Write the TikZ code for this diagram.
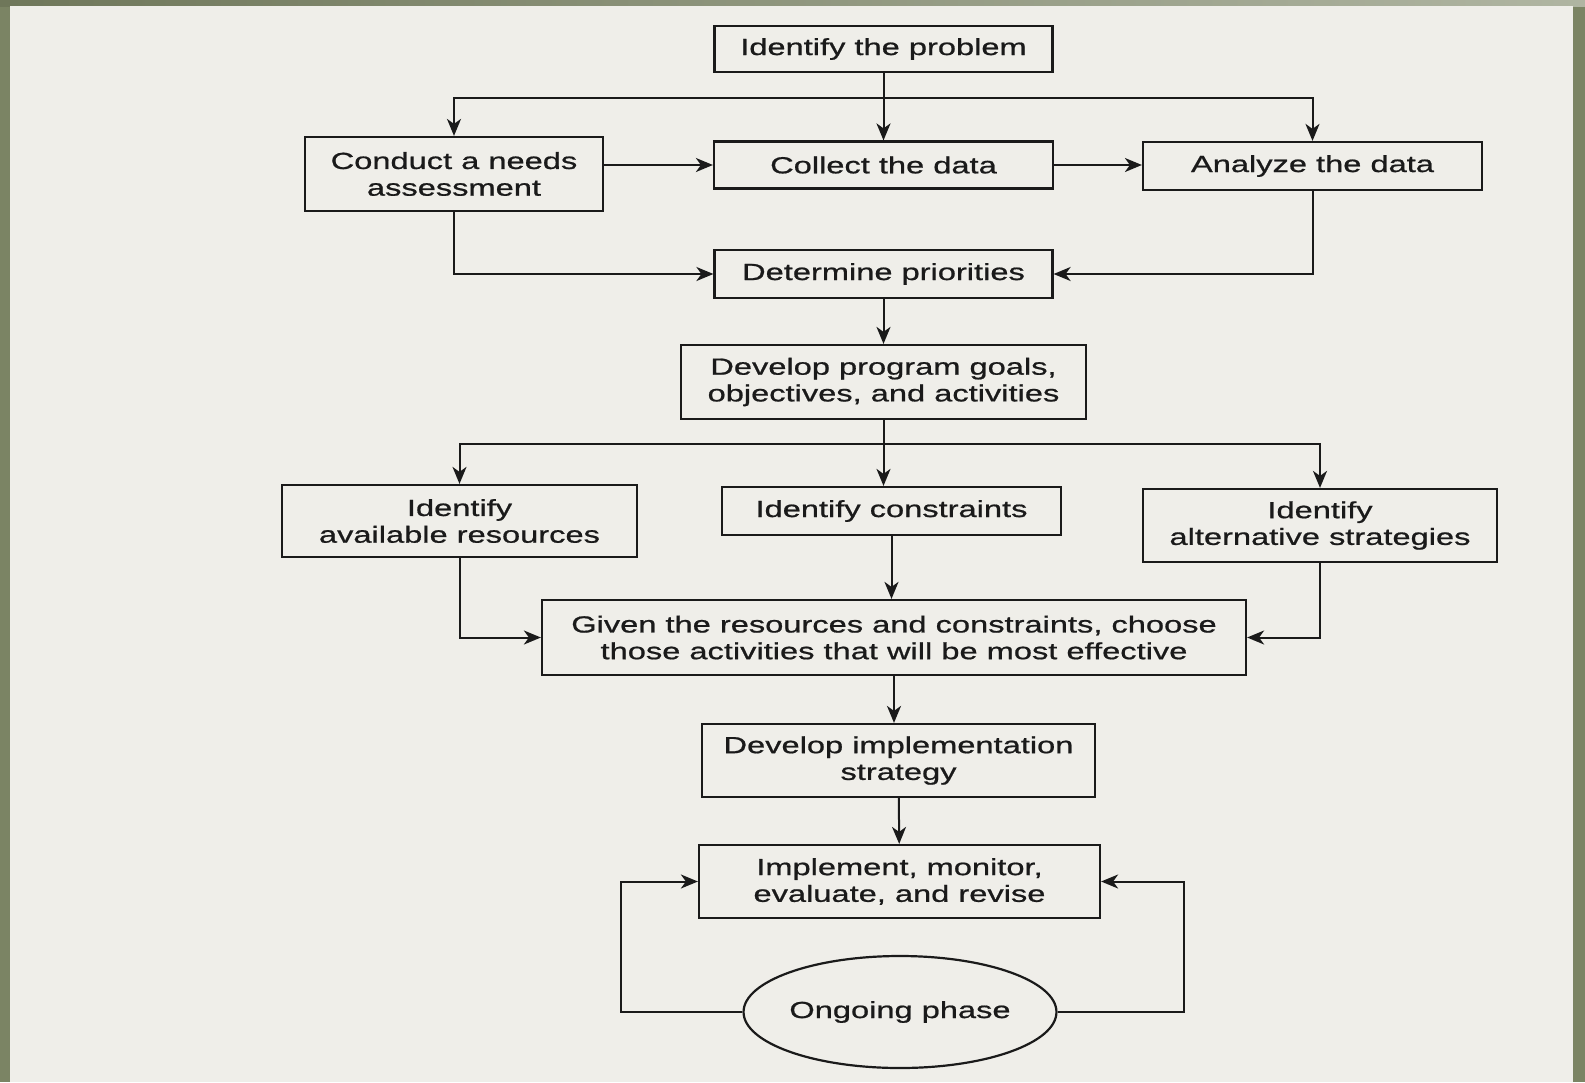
\documentclass[tikz,border=0pt]{standalone}
\usepackage{fontspec}
\newfontfamily\flowfont[FakeStretch=1.40,FakeBold=0.8]{Liberation Sans}
\usetikzlibrary{arrows.meta,shapes.geometric,calc}
\definecolor{bordergreen}{HTML}{7B8464}
\definecolor{paper}{HTML}{EFEEE9}
\definecolor{ink}{HTML}{1A1A1A}

\begin{document}
\begin{tikzpicture}[x=1pt,y=-1pt]

	\tikzstyle{activity}=[rectangle,draw=ink,line width=2.2pt,text=ink,
		font=\flowfont\fontsize{23.3pt}{26.7pt}\selectfont,
		align=center,inner sep=0pt]
	\tikzstyle{arrow}=[-{Stealth[length=17pt,width=14pt,inset=5pt]},line width=2pt,draw=ink]

	% page and frame
	\fill[bordergreen] (0,0) rectangle (1585,1082);
	\shade[left color=bordergreen!90!black,right color=bordergreen!60!white] (0,0) rectangle (1585,6);
	\fill[paper] (10,6) rectangle (1573,1082);
	\useasboundingbox (0,0) rectangle (1585,1082);

	\node[activity,minimum width=338pt,minimum height=46pt](problem) at (883.5,49){Identify the problem};
	\node[activity,minimum width=298pt,minimum height=74pt](needs) at (454,174){Conduct a needs\\ assessment};
	\node[activity,minimum width=339pt,minimum height=47pt](collect) at (883.5,165){Collect the data};
	\node[activity,minimum width=339pt,minimum height=48pt](analyze) at (1312.5,166){Analyze the data};
	\node[activity,minimum width=338pt,minimum height=48pt](priorities) at (883.5,274){Determine priorities};
	\node[activity,minimum width=405pt,minimum height=74pt](goals) at (883.5,382){Develop program goals,\\ objectives, and activities};
	\node[activity,minimum width=355pt,minimum height=72pt](resources) at (459.5,521){Identify\\ available resources};
	\node[activity,minimum width=339pt,minimum height=48pt](constraints) at (891.5,511){Identify constraints};
	\node[activity,minimum width=354pt,minimum height=73pt](strategies) at (1320,525.5){Identify\\ alternative strategies};
	\node[activity,minimum width=704pt,minimum height=75pt](choose) at (894,637.5){Given the resources and constraints, choose\\ those activities that will be most effective};
	\node[activity,minimum width=393pt,minimum height=73pt](implstrat) at (898.5,760.5){Develop implementation\\ strategy};
	\node[activity,minimum width=401pt,minimum height=73pt](implement) at (899.5,881.5){Implement, monitor,\\ evaluate, and revise};
	\node[activity,ellipse,minimum width=306pt,minimum height=112pt](ongoing) at (900,1012){Ongoing phase};

	\coordinate (splittop) at ($(problem.south)+(0,25)$);
	\coordinate (splitmid) at ($(goals.south)+(0,24)$);

	\draw[arrow] (problem) -- (collect);
	\draw[arrow] (splittop) -| (needs);
	\draw[arrow] (splittop) -| (analyze);
	\draw[arrow] (needs.east|-collect) -- (collect);
	\draw[arrow] (collect.east) -- (collect.east-|analyze.west);
	\draw[arrow] (needs) |- (priorities);
	\draw[arrow] (analyze) |- (priorities);
	\draw[arrow] (priorities) -- (goals);
	\draw[arrow] (goals.south) -- (goals.south|-constraints.north);
	\draw[arrow] (splitmid) -| (resources);
	\draw[arrow] (splitmid) -| (strategies);
	\draw[arrow] (resources) |- (choose);
	\draw[arrow] (strategies) |- (choose);
	\draw[arrow] (constraints.south) -- (constraints.south|-choose.north);
	\draw[arrow] (choose.south) -- (choose.south|-implstrat.north);
	\draw[arrow] (implstrat) -- (implement);
	\draw[arrow] (ongoing) -| ($(implement.west)+(-77,0)$) -- (implement);
	\draw[arrow] (ongoing) -| ($(implement.east)+(83,0)$) -- (implement);

\end{tikzpicture}
\end{document}
